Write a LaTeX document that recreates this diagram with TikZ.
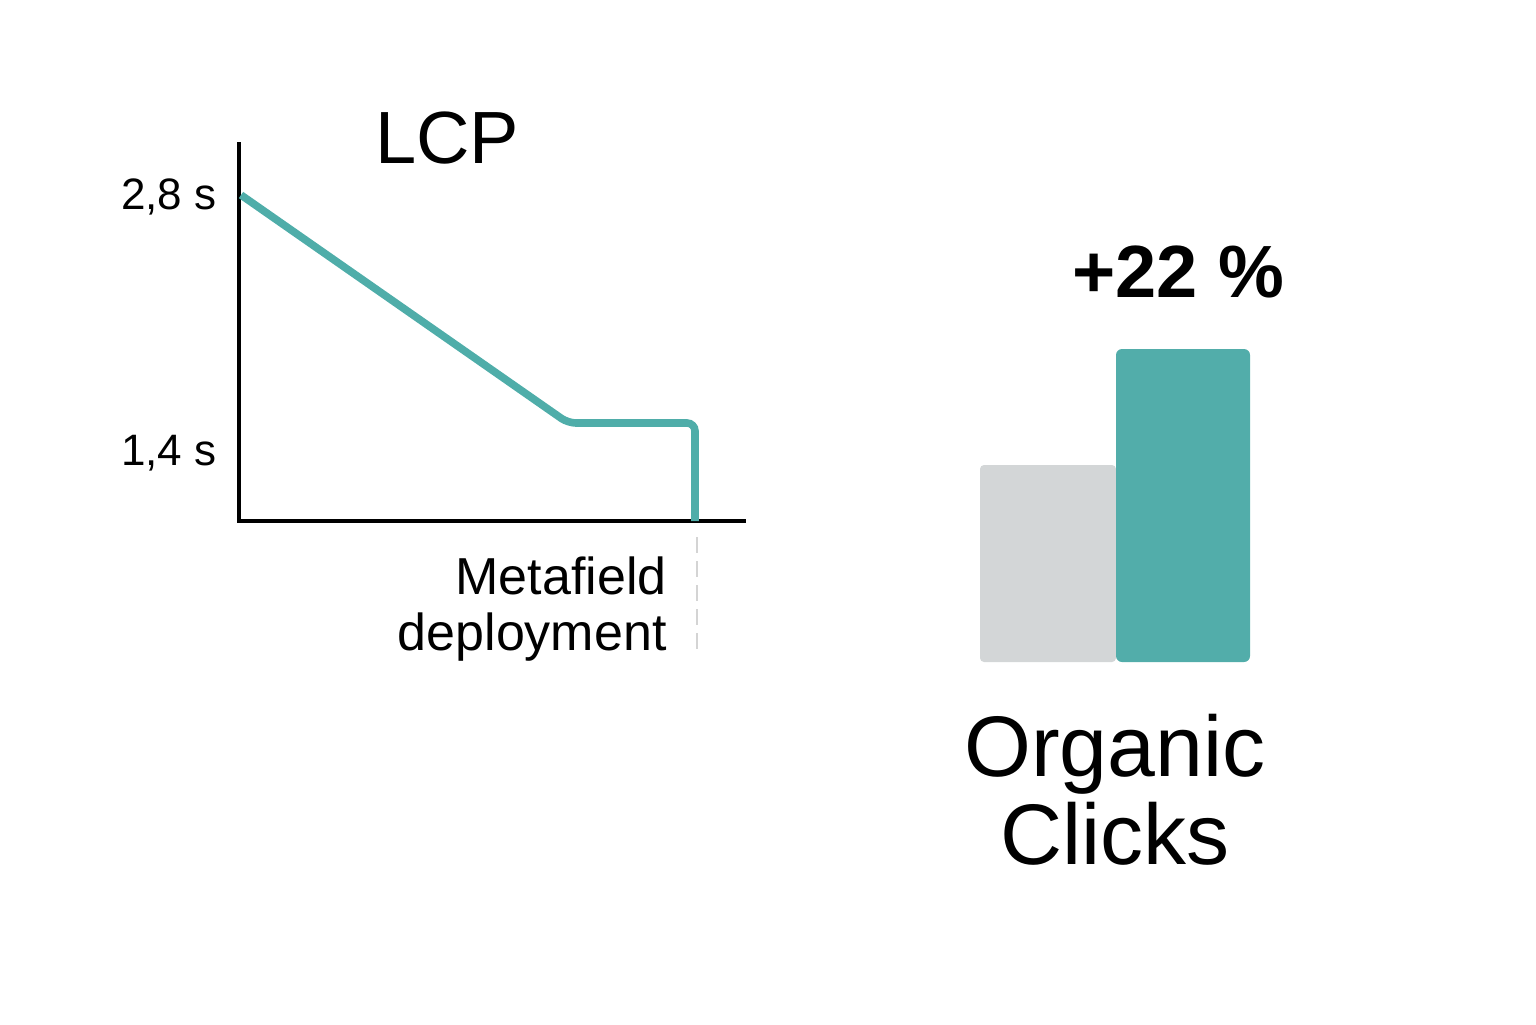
\documentclass[tikz,border=0pt]{standalone}
\usepackage{fontspec}
\setmainfont{Liberation Sans}
\usepackage{xcolor}
\usetikzlibrary{positioning,calc}
\definecolor{tealline}{HTML}{4FADA9}
\definecolor{tealbar}{HTML}{52ADAA}
\definecolor{greybar}{HTML}{D3D6D7}
\definecolor{dashgrey}{HTML}{D4D4D4}
\tikzset{
  axis/.style={line width=1.7pt, black},
  ticklabel/.style={font=\fontsize{22}{26}\selectfont, anchor=east, inner sep=0pt},
  title/.style={font=\fontsize{37}{42}\selectfont, inner sep=0pt}
}
\begin{document}
\begin{tikzpicture}[x=0.5pt, y=-0.5pt]
\useasboundingbox (0,0) rectangle (1536,1024);

% axes
\coordinate (top) at (239,142);
\coordinate (origin) at (239,521);
\coordinate (xend) at (746,521);
\draw[axis] (top) -- (origin) -- (xend);

% LCP curve
\coordinate (start) at (241,195);
\coordinate (knee) at (568,423);
\coordinate (drop) at (695,423);
\coordinate (foot) at (695,521);
\draw[tealline, line width=3.8pt, rounded corners=4pt] (start) -- (knee) -- (drop) -- (foot);
\draw[dashgrey, line width=1.2pt, dash pattern=on 8pt off 4pt] (697,537) -- (697,650);

% labels
\node[ticklabel] (high) at (217,197) {2,8 s};
\node[ticklabel] (low) at (217,453) {1,4 s};
\node[title] (lcp) at (447,138) {LCP};
\node[font=\fontsize{26}{28}\selectfont, align=right, anchor=east, inner sep=0pt] (deploy) at (667,609) {Metafield\\deployment};

% bars
\node[fill=greybar, rounded corners=2pt, minimum width=68pt, minimum height=98.5pt, inner sep=0pt] (before) at (1048,563.5) {};
\node[fill=tealbar, rounded corners=3pt, minimum width=67pt, minimum height=156.5pt, inner sep=0pt] (after) at (1183,505.5) {};
\node[font=\bfseries\fontsize{37}{42}\selectfont, inner sep=0pt] (gain) at (1178,272) {+22 \%};
\node[font=\fontsize{43}{44}\selectfont, align=center, inner sep=0pt] (clicks) at (1115,790) {Organic\\Clicks};

\end{tikzpicture}
\end{document}
